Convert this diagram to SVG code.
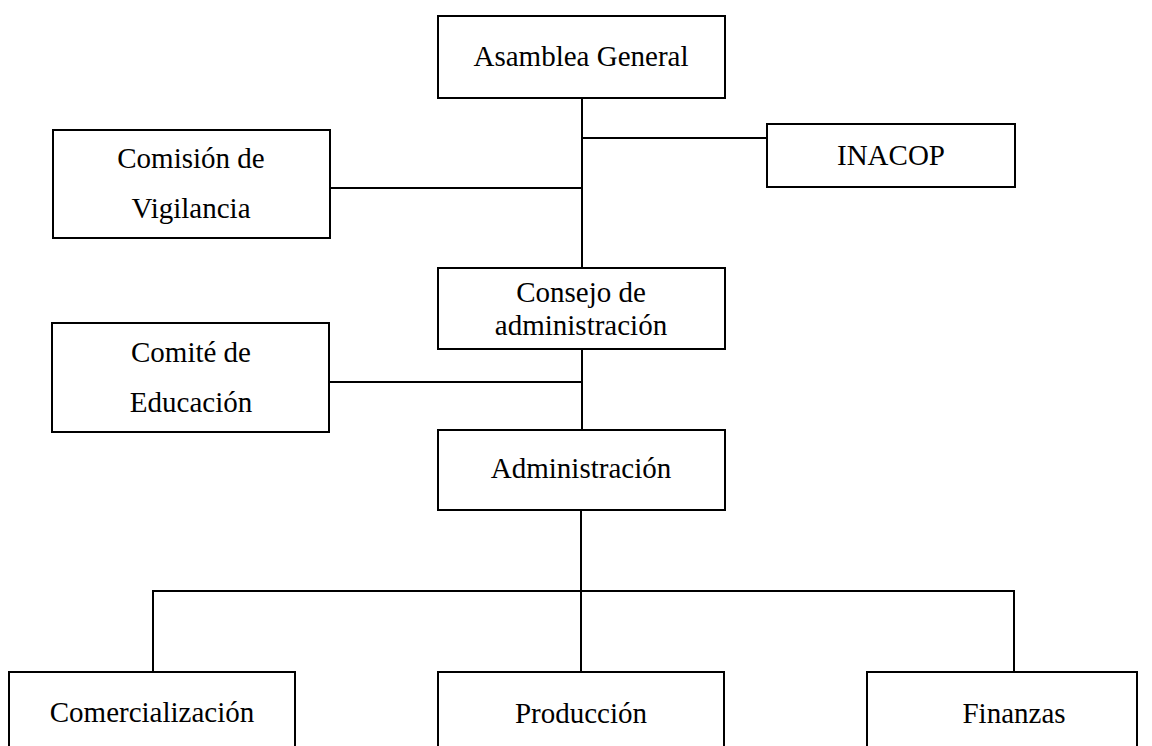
<svg xmlns="http://www.w3.org/2000/svg" width="1152" height="746" viewBox="0 0 1152 746">
<style>
.box{fill:#fff;stroke:#000;stroke-width:2}
.ln{stroke:#000;stroke-width:2;fill:none}
.t{font-family:'Liberation Serif','Times New Roman',serif;font-size:29px;fill:#000;text-anchor:middle}
</style>
<rect width="1152" height="746" fill="#fff"/>
<g id="connectors">
<line class="ln" x1="582" y1="98" x2="582" y2="268"/>
<line class="ln" x1="582" y1="138" x2="767" y2="138"/>
<line class="ln" x1="330" y1="188" x2="582" y2="188"/>
<line class="ln" x1="582" y1="349" x2="582" y2="430"/>
<line class="ln" x1="329" y1="382" x2="582" y2="382"/>
<line class="ln" x1="581" y1="510" x2="581" y2="672"/>
<polyline class="ln" points="153,672 153,591 1014,591 1014,672"/>
</g>
<g id="asamblea"><rect class="box" x="438" y="16" width="287" height="82"/><text class="t" x="581" y="66">Asamblea General</text></g>
<g id="inacop"><rect class="box" x="767" y="124" width="248" height="63"/><text class="t" x="891" y="165">INACOP</text></g>
<g id="vigilancia"><rect class="box" x="53" y="130" width="277" height="108"/><text class="t" x="191" y="168">Comisión de</text><text class="t" x="191" y="218">Vigilancia</text></g>
<g id="consejo"><rect class="box" x="438" y="268" width="287" height="81"/><text class="t" x="581" y="302">Consejo de</text><text class="t" x="581" y="335">administración</text></g>
<g id="educacion"><rect class="box" x="52" y="323" width="277" height="109"/><text class="t" x="191" y="362">Comité de</text><text class="t" x="191" y="412">Educación</text></g>
<g id="administracion"><rect class="box" x="438" y="430" width="287" height="80"/><text class="t" x="581" y="478">Administración</text></g>
<g id="comercializacion"><rect class="box" x="9" y="672" width="286" height="90"/><text class="t" x="152" y="722">Comercialización</text></g>
<g id="produccion"><rect class="box" x="438" y="672" width="286" height="90"/><text class="t" x="581" y="723">Producción</text></g>
<g id="finanzas"><rect class="box" x="867" y="672" width="270" height="90"/><text class="t" x="1014" y="723">Finanzas</text></g>
</svg>
